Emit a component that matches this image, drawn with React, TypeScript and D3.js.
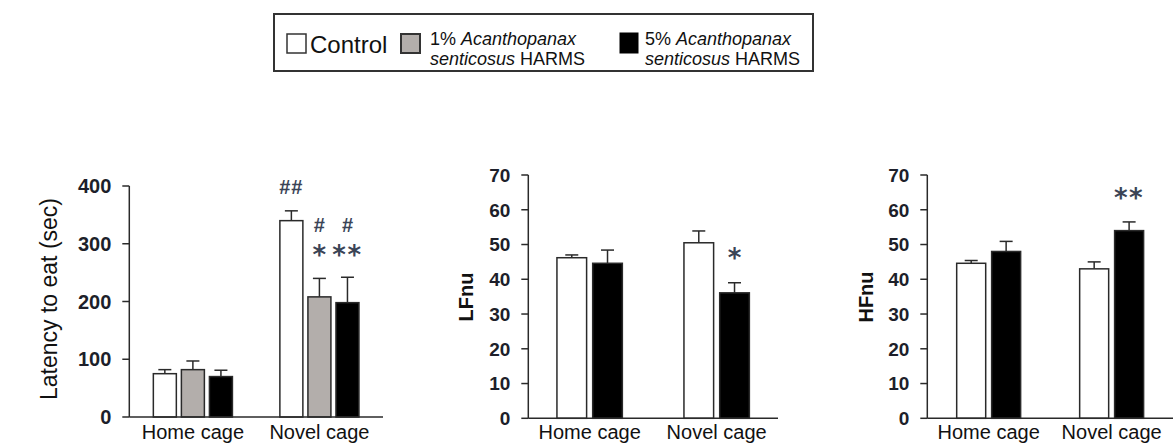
import React from 'react';
import * as d3 from 'd3';

// ---------- data ----------
const groups = ['Home cage', 'Novel cage'];

const latencySeries = ['Control', '1%', '5%'];
const latencyHome = [75, 82, 70];
const latencyHomeErr = [7, 15, 11];
const latencyNovel = [340, 208, 198];
const latencyNovelErr = [17, 32, 44];
const latencyTicks = [0, 100, 200, 300, 400];

const hrvSeries = ['Control', '5%'];
const lfHome = [46.2, 44.6];
const lfHomeErr = [0.8, 3.8];
const lfNovel = [50.5, 36.1];
const lfNovelErr = [3.4, 2.9];

const hfHome = [44.6, 48.0];
const hfHomeErr = [0.8, 2.9];
const hfNovel = [43.0, 54.0];
const hfNovelErr = [2.0, 2.5];
const nuTicks = [0, 10, 20, 30, 40, 50, 60, 70];

// annotations: [group, series, text, y in data units, kind]
const latencyMarks = [
  ['Novel cage', 'Control', '##', 398, 'hash'],
  ['Novel cage', '1%', '#', 332, 'hash'],
  ['Novel cage', '5%', '#', 332, 'hash'],
  ['Novel cage', '1%', '*', 290, 'star'],
  ['Novel cage', '5%', '**', 290, 'star'],
];
const lfMarks = [['Novel cage', '5%', '*', 47.6, 'star']];
const hfMarks = [['Novel cage', '5%', '**', 65, 'star']];

const legendLabels = ['Control', '1% ', '5% '];

const fills: Record<string, string> = { Control: '#ffffff', '1%': '#b3aeab', '5%': '#000000' };

const FONT = 'Liberation Sans, Arial, Helvetica, sans-serif';
const TICK_COLOR = '#1d1f2a';
const MARK_COLOR = '#3b4456';
const LINE = '#2a2a2a';

type PanelProps = {
  series: string[];
  values: number[][];
  errors: number[][];
  ticks: number[];
  marks: any[];
  left: number;
  right: number;
  top: number;
  bottom: number;
  padInner: number;
  padOuter: number;
  barPad: number;
  tickSize: number;
  title: string;
  titleX: number;
  titleY: number;
  titleSize: number;
  titleBold: boolean;
};

function Panel(p: PanelProps) {
  const maxV = d3.max(p.ticks) as number;
  const y = d3.scaleLinear().domain([0, maxV]).range([p.bottom, p.top]);
  const x0 = d3.scaleBand<string>().domain(groups).range([p.left, p.right])
    .paddingInner(p.padInner).paddingOuter(p.padOuter);
  const x1 = d3.scaleBand<string>().domain(p.series).range([0, x0.bandwidth()]).paddingInner(p.barPad);
  const bw = x1.bandwidth();
  return (
    <g>
      {groups.map((g, gi) => (
        <g key={g}>
          {p.series.map((s, si) => {
            const v = p.values[gi][si];
            const e = p.errors[gi][si];
            const bx = (x0(g) as number) + (x1(s) as number);
            const cx = bx + bw / 2;
            return (
              <g key={s}>
                <line x1={cx} x2={cx} y1={y(v)} y2={y(v + e)} stroke={LINE} strokeWidth={1.5} />
                <line x1={cx - 6.5} x2={cx + 6.5} y1={y(v + e)} y2={y(v + e)} stroke={LINE} strokeWidth={1.5} />
                <rect x={bx} y={y(v)} width={bw} height={y(0) - y(v)} fill={fills[s]} stroke={LINE} strokeWidth={1.5} />
              </g>
            );
          })}
        </g>
      ))}
      <line x1={p.left} x2={p.left} y1={y(maxV)} y2={y(0)} stroke={LINE} strokeWidth={1.5} />
      <line x1={p.left} x2={p.right} y1={y(0)} y2={y(0)} stroke={LINE} strokeWidth={1.5} />
      {p.ticks.map((t) => (
        <g key={t}>
          <line x1={p.left - 7} x2={p.left} y1={y(t)} y2={y(t)} stroke={LINE} strokeWidth={1.5} />
          <text x={p.left - 18} y={y(t)} dy="0.36em" textAnchor="end" fontFamily={FONT}
            fontWeight="bold" fontSize={p.tickSize} fill={TICK_COLOR}>{t}</text>
        </g>
      ))}
      {groups.map((g) => (
        <text key={g} x={(x0(g) as number) + x0.bandwidth() / 2} y={439} textAnchor="middle"
          fontFamily={FONT} fontSize={20} fill="#111">{g}</text>
      ))}
      <text transform={`translate(${p.titleX},${p.titleY}) rotate(-90)`} textAnchor="middle"
        fontFamily={FONT} fontSize={p.titleSize} fontWeight={p.titleBold ? 'bold' : 'normal'} fill="#111">{p.title}</text>
      {p.marks.map((m, i) => {
        const [g, s, txt, yv, kind] = m;
        const cx = (x0(g) as number) + (x1(s) as number) + bw / 2;
        const cy = y(yv);
        if (kind === 'hash') {
          return (
            <text key={i} x={cx} y={cy + 7} textAnchor="middle" fontFamily={FONT} fontSize={20}
              fontWeight="bold" letterSpacing={txt.length > 1 ? 1 : 0} fill={MARK_COLOR}>{txt}</text>
          );
        }
        return (
          <text key={i} x={cx} y={cy + 14.5} textAnchor="middle" fontFamily="DejaVu Sans, sans-serif" fontSize={26}
            fontWeight="bold" letterSpacing={txt.length > 1 ? 1.5 : 0} fill={MARK_COLOR}>{txt}</text>
        );
      })}
    </g>
  );
}

function Legend() {
  const it = { fontStyle: 'italic' as const };
  return (
    <g fontFamily={FONT} fill="#111">
      <rect x={274} y={14} width={539} height={57} fill="#fff" stroke="#333" strokeWidth={2} />
      <rect x={287} y={34} width={19} height={19} fill={fills['Control']} stroke="#333" strokeWidth={1.5} />
      <text x={310} y={53} fontSize={24}>{legendLabels[0]}</text>
      <rect x={401} y={34} width={19} height={19} fill={fills['1%']} stroke="#333" strokeWidth={2} />
      <text x={430} y={45} fontSize={18}>{legendLabels[1]}<tspan {...it}>Acanthopanax</tspan></text>
      <text x={430} y={65} fontSize={18}><tspan {...it}>senticosus</tspan> HARMS</text>
      <rect x={620} y={33} width={18} height={20} fill={fills['5%']} stroke="#000" strokeWidth={1} />
      <text x={645} y={45} fontSize={18}>{legendLabels[2]}<tspan {...it}>Acanthopanax</tspan></text>
      <text x={645} y={65} fontSize={18}><tspan {...it}>senticosus</tspan> HARMS</text>
    </g>
  );
}

export default function App() {
  return (
    <svg width={1174} height={443} style={{ position: 'absolute', left: 0, top: 0, background: '#fff' }}>
      <rect x={0} y={0} width={1174} height={443} fill="#fff" />
      <Legend />
      <Panel series={latencySeries} values={[latencyHome, latencyNovel]} errors={[latencyHomeErr, latencyNovelErr]}
        ticks={latencyTicks} marks={latencyMarks} left={129.3} right={383} top={186} bottom={417}
        padInner={0.375} padOuter={0.19} barPad={0.18} tickSize={20}
        title="Latency to eat (sec)" titleX={57} titleY={299} titleSize={23} titleBold={false} />
      <Panel series={hrvSeries} values={[lfHome, lfNovel]} errors={[lfHomeErr, lfNovelErr]}
        ticks={nuTicks} marks={lfMarks} left={528.3} right={778} top={175} bottom={418.3}
        padInner={0.485} padOuter={0.2255} barPad={0.17} tickSize={19}
        title="LFnu" titleX={473} titleY={297} titleSize={20} titleBold={true} />
      <Panel series={hrvSeries} values={[hfHome, hfNovel]} errors={[hfHomeErr, hfNovelErr]}
        ticks={nuTicks} marks={hfMarks} left={927.3} right={1173} top={175} bottom={418.3}
        padInner={0.48} padOuter={0.239} barPad={0.17} tickSize={19}
        title="HFnu" titleX={873} titleY={297} titleSize={20} titleBold={true} />
    </svg>
  );
}
